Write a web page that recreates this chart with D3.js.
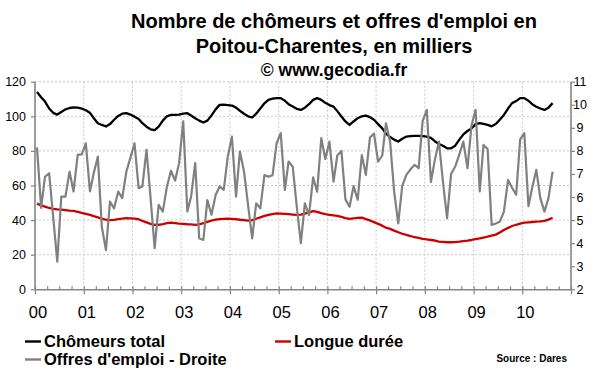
<!DOCTYPE html>
<html lang="fr">
<head>
  <meta charset="UTF-8">
  <title>Chômeurs et offres d'emploi – Poitou-Charentes</title>
  <script src="https://d3js.org/d3.v7.min.js"></script>
  <style>
    body {
      margin: 0;
      padding: 0;
      background: #ffffff;
      font-family: Arial, 'Liberation Sans', sans-serif;
    }
    svg {
      display: block;
    }
  </style>
</head>
<body>
  <svg id="chart" width="600" height="372"></svg>
<script>
  // séries mensuelles, janvier 2000 -> août 2010 (milliers)
  const chomeursTotal = [
    114, 111, 108.5, 104.5, 102, 101, 102.5, 104, 104.8, 105.2, 105, 104.5,
    103.5, 102, 99, 96, 95, 94.1, 95.5, 98, 100.2, 101.5, 101.8, 101,
    99.8, 98.5, 96, 94, 92.5, 92, 94, 97.5, 100, 100.8, 100.8, 101,
    101.5, 101.8, 100.5, 98.9, 97.5, 96.4, 97.5, 100.5, 104, 106.6, 106.8, 106.5,
    106.2, 105, 103.2, 101.5, 100, 99.3, 101.5, 104.5, 107.5, 109.5, 110.2, 110.5,
    110.5, 109, 107, 105.6, 104.3, 103.7, 105, 107, 109.5, 110.5, 109.5, 107.8,
    106.5, 105.6, 103, 99.9, 97, 95, 97, 98.9, 100, 100.4, 99.5, 98,
    95.5, 93, 90, 88, 86.5, 85.4, 87, 88.3, 88.5, 88.7, 88.7, 88.5,
    88.3, 87.5, 85.6, 84, 83, 81.5, 81.5, 83, 86.5, 89.5, 91.5, 93,
    95.5, 96, 95.6, 95, 94.2, 95.5, 98, 100.8, 104.5, 107.6, 108.8, 110.5,
    110.5, 109, 107, 105.5, 104.5, 103.7, 105, 107.6
  ];

  const longueDuree = [
    49.5, 48.5, 47.8, 47, 46.5, 46.2, 46, 45.8, 45.5, 45.3, 44.8, 44.2,
    43.6, 43, 42.3, 41.6, 40.8, 40.2, 40, 40.1, 40.5, 40.9, 41.1, 41,
    40.8, 40.5, 39.5, 38.7, 37.8, 37.2, 37.3, 37.7, 38.2, 38.5, 38.3, 38,
    37.8, 37.6, 37.5, 37.3, 37.5, 38.2, 39, 39.7, 40.3, 40.6, 40.7, 40.8,
    40.7, 40.5, 40.2, 40, 39.7, 40, 40.8, 41.6, 42.4, 43, 43.5, 43.9,
    43.8, 43.6, 43.4, 43.2, 43, 43.2, 43.8, 44.5, 45.2, 44.8, 44, 43.4,
    43, 42.7, 42.4, 41.8, 41.2, 40.7, 41, 41.3, 41.4, 40.6, 39.8, 38.8,
    37.8, 36.8, 35.6, 34.9, 33.9, 33, 32.1, 31.4, 30.8, 30.1, 29.7, 29.2,
    28.8, 28.5, 28.2, 27.6, 27.4, 27.2, 27.2, 27.3, 27.5, 27.8, 28.1, 28.5,
    29, 29.4, 29.9, 30.4, 31, 31.6, 32.8, 34.3, 35.5, 36.6, 37.3, 37.9,
    38.5, 38.7, 38.9, 39.1, 39.3, 39.6, 40.3, 41.4
  ];

  // axe de droite
  const offresEmploi = [
    8.15, 5.53, 6.88, 7.03, 5.15, 3.2, 6.02, 6.02, 7.1, 6.24, 7.83, 7.85,
    8.33, 6.24, 7.03, 7.75, 4.7, 3.7, 5.8, 5.51, 6.24, 5.95, 7.1, 7.7,
    8.33, 6.38, 6.46, 8.05, 5.98, 3.78, 5.66, 5.37, 6.45, 7.14, 6.71, 7.47,
    9.28, 5.37, 6.01, 7.47, 4.21, 4.14, 5.87, 5.23, 6.09, 6.46, 6.31, 7.75,
    8.62, 6.02, 7.97, 7.1, 5.66, 4.21, 5.73, 5.51, 6.95, 6.88, 6.95, 8.33,
    8.77, 6.31, 7.54, 7.32, 5.6, 4.0, 5.73, 5.22, 6.85, 6.23, 8.55, 7.65,
    8.4, 6.67, 7.8, 8.0, 5.9, 5.58, 6.47, 5.88, 7.82, 6.96, 8.58, 8.75,
    7.53, 7.8, 9.2, 8.4, 6.25, 4.86, 6.48, 6.96, 7.2, 7.39, 7.25, 9.3,
    9.78, 6.65, 7.6, 8.4, 6.67, 5.08, 7.0, 7.32, 7.85, 8.4, 7.25, 9.1,
    9.78, 6.24, 8.26, 8.08, 4.79, 4.85, 4.93, 5.37, 6.74, 6.4, 6.1, 8.5,
    8.77, 5.6, 6.4, 7.18, 5.95, 5.37, 5.95, 7.1
  ];

  const yearLabels = ["00", "01", "02", "03", "04", "05", "06", "07", "08", "09", "10"];
  const leftTicks = [0, 20, 40, 60, 80, 100, 120];
  const rightTicks = [2, 3, 4, 5, 6, 7, 8, 9, 10, 11];
  const titleLines = [
    "Nombre de chômeurs et offres d'emploi en",
    "Poitou-Charentes, en milliers",
    "© www.gecodia.fr"
  ];

  const svg = d3.select("#chart");

  const plot = { left: 35, right: 571, top: 81.7, bottom: 289.3 };

  const x = d3.scaleTime()
    .domain([new Date(2000, 0, 1), new Date(2011, 0, 1)])
    .range([plot.left, plot.right]);
  const yLeft = d3.scaleLinear().domain([0, 120]).range([plot.bottom, plot.top]);
  const yRight = d3.scaleLinear().domain([2, 11]).range([plot.bottom, plot.top]);

  // point au milieu de chaque mois (axe par catégories)
  const monthDate = i => new Date(2000, i, 16);

  svg.append("rect")
    .attr("width", 600).attr("height", 372).attr("fill", "#ffffff");

  // titre
  const titleY = [27.5, 53, 76];
  const titleSize = [20, 20, 17.5];
  svg.append("g").selectAll("text")
    .data(titleLines)
    .join("text")
    .attr("x", 334)
    .attr("y", (d, i) => titleY[i])
    .attr("text-anchor", "middle")
    .style("font-size", (d, i) => titleSize[i] + "px")
    .style("font-weight", "bold")
    .style("fill", "#000")
    .text(d => d);

  // quadrillage
  const grid = svg.append("g")
    .attr("stroke", "#c8c8c8")
    .attr("stroke-width", 1)
    .attr("stroke-dasharray", "2,2");

  grid.selectAll("line.h")
    .data(leftTicks.filter(v => v > 0))
    .join("line")
    .attr("class", "h")
    .attr("x1", plot.left).attr("x2", plot.right)
    .attr("y1", d => yLeft(d)).attr("y2", d => yLeft(d));

  const yearDates = d3.range(2001, 2011).map(y => new Date(y, 0, 1));
  grid.selectAll("line.v")
    .data(yearDates)
    .join("line")
    .attr("class", "v")
    .attr("x1", d => x(d)).attr("x2", d => x(d))
    .attr("y1", plot.top).attr("y2", plot.bottom);

  // axes
  const axisColor = "#858585";

  const gLeft = svg.append("g")
    .attr("transform", `translate(${plot.left},0)`)
    .call(d3.axisLeft(yLeft).tickValues(leftTicks).tickSize(4).tickPadding(5));
  const gRight = svg.append("g")
    .attr("transform", `translate(${plot.right},0)`)
    .call(d3.axisRight(yRight).tickValues(rightTicks).tickSize(4).tickPadding(4));

  // graduations trimestrielles + années
  const quarterDates = d3.timeMonth.every(3).range(new Date(2000, 0, 1), new Date(2011, 0, 2));
  const gBottom = svg.append("g")
    .attr("transform", `translate(0,${plot.bottom})`)
    .call(d3.axisBottom(x).tickValues(quarterDates).tickSize(0).tickFormat(""));
  gBottom.selectAll(".tick").append("line")
    .attr("y1", -3)
    .attr("y2", d => d.getMonth() === 0 ? 5 : 0)
    .attr("stroke", axisColor)
    .attr("stroke-width", 1.2);

  [gLeft, gRight, gBottom].forEach(g => {
    g.select(".domain").attr("stroke", axisColor).attr("stroke-width", 1.6);
    g.selectAll(".tick line").attr("stroke", axisColor).attr("stroke-width", 1.2);
    g.selectAll(".tick text")
      .style("font-size", "12.5px")
      .style("font-family", "Arial, 'Liberation Sans', sans-serif")
      .attr("fill", "#000");
  });
  gLeft.select(".domain").attr("d", `M0,${plot.top}V${plot.bottom}`);
  gRight.select(".domain").attr("d", `M0,${plot.top}V${plot.bottom}`);
  // étiquettes de droite centrées
  gRight.selectAll(".tick text")
    .attr("x", 9)
    .attr("text-anchor", "middle");

  // étiquettes des années
  const yearStarts = d3.range(2000, 2011).map(y => new Date(y, 0, 1));
  svg.append("g").selectAll("text")
    .data(yearStarts)
    .join("text")
    .attr("x", d => x(d) + 3)
    .attr("y", 318)
    .attr("text-anchor", "middle")
    .style("font-size", "16.5px")
    .style("fill", "#000")
    .text((d, i) => yearLabels[i]);

  // courbes
  const lineLeft = d3.line()
    .x((d, i) => x(monthDate(i)))
    .y(d => yLeft(d));
  const lineRight = d3.line()
    .x((d, i) => x(monthDate(i)))
    .y(d => yRight(d));

  svg.append("path")
    .datum(chomeursTotal)
    .attr("fill", "none")
    .attr("stroke", "#000000")
    .attr("stroke-width", 2.3)
    .attr("stroke-linejoin", "round")
    .attr("d", lineLeft);

  svg.append("path")
    .datum(longueDuree)
    .attr("fill", "none")
    .attr("stroke", "#cc0000")
    .attr("stroke-width", 2.3)
    .attr("stroke-linejoin", "round")
    .attr("d", lineLeft);

  svg.append("path")
    .datum(offresEmploi)
    .attr("fill", "none")
    .attr("stroke", "#808080")
    .attr("stroke-width", 2.2)
    .attr("stroke-linejoin", "round")
    .attr("d", lineRight);

  // légende
  const legendItems = [
    { label: "Chômeurs total", color: "#000000", x: 25, y: 341.5 },
    { label: "Longue durée", color: "#cc0000", x: 275, y: 341.5 },
    { label: "Offres d'emploi - Droite", color: "#808080", x: 25, y: 359.5 }
  ];
  const legend = svg.append("g").selectAll("g")
    .data(legendItems)
    .join("g")
    .attr("transform", d => `translate(${d.x},${d.y})`);
  legend.append("line")
    .attr("x1", 0).attr("x2", 16)
    .attr("stroke", d => d.color)
    .attr("stroke-width", 2.4);
  legend.append("text")
    .attr("x", 19)
    .attr("dy", "0.35em")
    .style("font-size", "16.5px")
    .style("font-weight", "bold")
    .style("fill", "#000")
    .text(d => d.label);

  svg.append("text")
    .attr("x", 567)
    .attr("y", 362)
    .attr("text-anchor", "end")
    .style("font-size", "10px")
    .style("font-weight", "bold")
    .style("fill", "#000")
    .text("Source : Dares");
</script>
</body>
</html>
